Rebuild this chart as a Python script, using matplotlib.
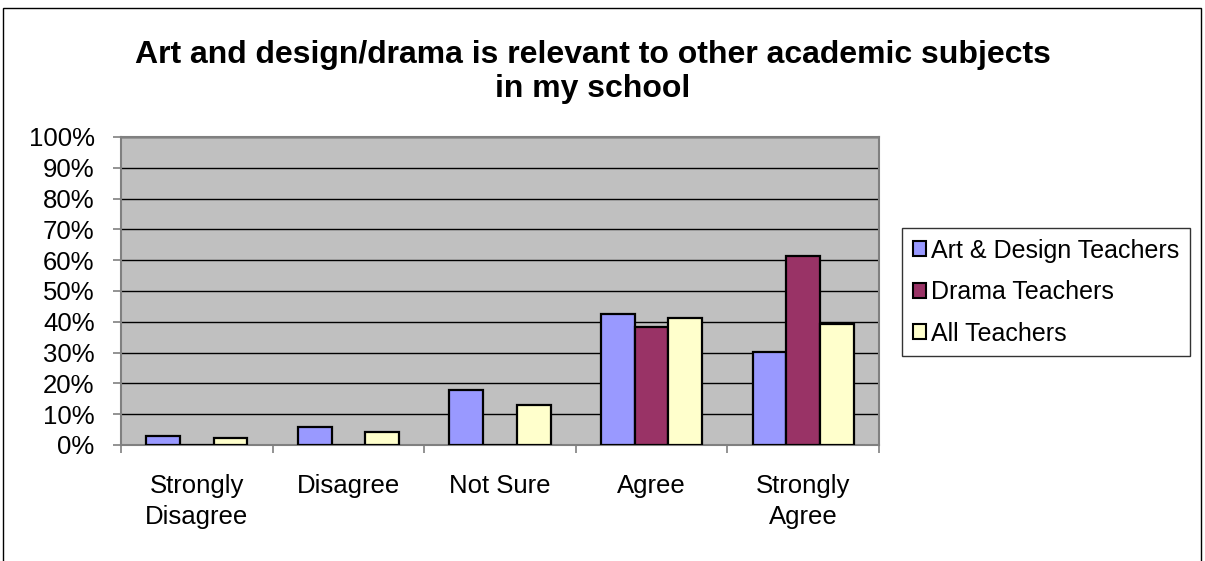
import matplotlib.pyplot as plt
import matplotlib.patches as mpatches
import numpy as np

plt.rcParams['font.family'] = ['Liberation Sans', 'DejaVu Sans']

CATEGORIES = ['Strongly\nDisagree', 'Disagree', 'Not Sure', 'Agree', 'Strongly\nAgree']
SERIES = ['Art & Design Teachers', 'Drama Teachers', 'All Teachers']
ART_DESIGN = [3, 6, 18, 42.4, 30.3]
DRAMA = [0, 0, 0, 38.3, 61.5]
ALL_TEACHERS = [2.2, 4.2, 13, 41.1, 39.2]
Y_TICKS = [0, 10, 20, 30, 40, 50, 60, 70, 80, 90, 100]
COLORS = ['#9999FF', '#993366', '#FFFFCC']
TITLE = 'Art and design/drama is relevant to other academic subjects\nin my school'


def main() -> None:
    fig = plt.figure(figsize=(12.05, 5.61), dpi=100)
    W, H = 1205, 561

    # outer chart frame (open at the bottom)
    fig.patches.append(mpatches.Rectangle((3 / W, -0.05), (1201 - 3) / W, 1.05 - 8 / H,
                                          transform=fig.transFigure, fill=False,
                                          edgecolor='#000000', linewidth=1.0))

    ax = fig.add_axes([121 / W, 1 - 445 / H, (879 - 121) / W, (445 - 137) / H])
    ax.set_facecolor('#C0C0C0')

    x = np.arange(len(CATEGORIES))
    bar_w = 1 / 4.5  # gap width of 150%
    for i, (name, vals) in enumerate(zip(SERIES, [ART_DESIGN, DRAMA, ALL_TEACHERS])):
        ax.bar(x + (i - 1) * bar_w, vals, bar_w, color=COLORS[i], edgecolor='black',
               linewidth=1.6, label=name, zorder=3)

    ax.set_xlim(-0.5, len(CATEGORIES) - 0.5)
    ax.set_ylim(0, 100)
    ax.set_yticks(Y_TICKS)
    ax.set_yticklabels([f'{v}%' for v in Y_TICKS], fontsize=18.5)
    ax.yaxis.grid(True, color='black', linewidth=1.0, zorder=1)
    ax.set_axisbelow(True)

    ax.set_xticks(x)
    ax.set_xticklabels(CATEGORIES, fontsize=18.5, linespacing=1.35)
    ax.set_xticks(np.arange(len(CATEGORIES) + 1) - 0.5, minor=True)
    ax.tick_params(axis='x', which='major', length=0, pad=21)
    ax.tick_params(axis='x', which='minor', length=6, color='#808080', width=1.2)
    ax.tick_params(axis='y', length=6, color='#808080', width=1.2, pad=13)

    for side in ax.spines:
        ax.spines[side].set_color('#808080')
        ax.spines[side].set_linewidth(1.5)

    fig.text(593 / W, 1 - 72 / H, TITLE, ha='center', va='center', fontsize=23,
             fontweight='bold', linespacing=1.18)

    handles = [mpatches.Patch(facecolor=c, edgecolor='black', linewidth=1.5, label=s)
               for c, s in zip(COLORS, SERIES)]
    leg = fig.legend(handles=handles, loc='upper left',
                     bbox_to_anchor=(902 / W, 1 - 228 / H), fontsize=18,
                     frameon=True, fancybox=False, handlelength=0.55, handleheight=0.55,
                     handletextpad=0.2, borderpad=0.42, labelspacing=0.7,
                     borderaxespad=0)
    leg.get_frame().set_edgecolor('black')
    leg.get_frame().set_linewidth(1.0)

    fig.savefig('out.png', dpi=100)


if __name__ == '__main__':
    main()
